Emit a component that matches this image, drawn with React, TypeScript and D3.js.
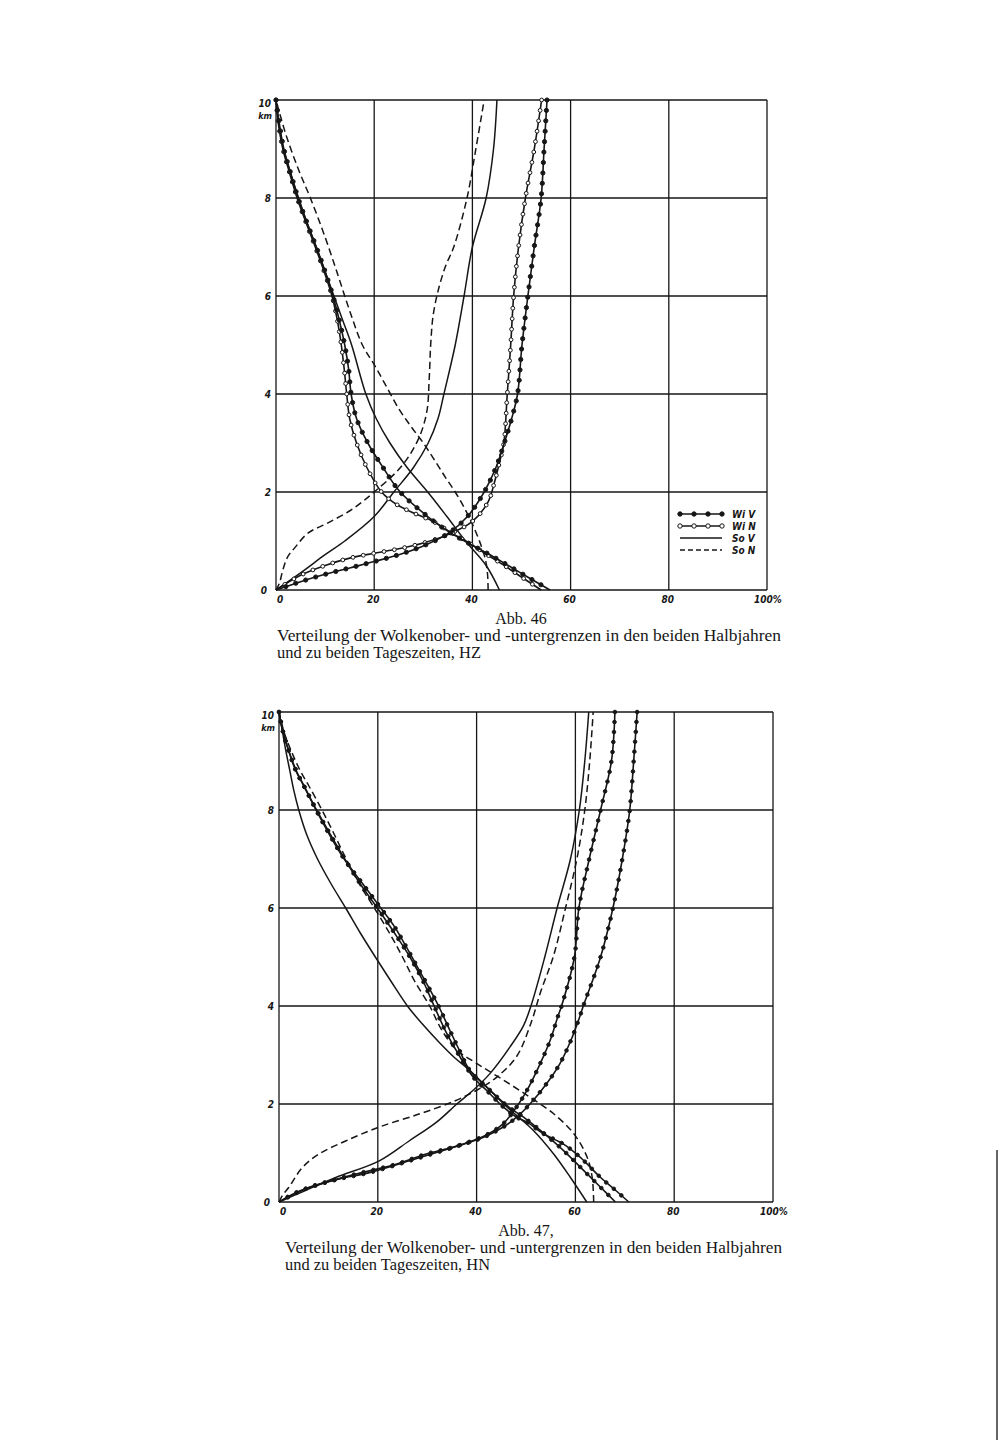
import React, { useEffect, useRef } from "react";
import * as d3 from "d3";

type Pt = [number, number]; // [percent, km]

const kmTicks = [0, 2, 4, 6, 8, 10];
const pctTicks = [0, 20, 40, 60, 80, 100];
const legendNames = ["WiV", "WiN", "SoV", "SoN"];

// Abb. 46 (HZ) - "Unter" curves rise from the origin, "Ober" curves fall from 10 km
const hzWiVUnter: Pt[] = [[0, 0], [5, 0.17], [10, 0.32], [15, 0.45], [20, 0.58], [25, 0.72], [30, 0.9], [35, 1.15], [39, 1.5], [42.4, 2.0], [44.8, 2.5], [46.5, 3.0], [48, 3.5], [49.2, 4], [50.1, 5], [51.3, 6], [52.6, 7], [54, 8], [54.6, 9], [55.2, 10]];
const hzWiNUnter: Pt[] = [[0, 0], [5, 0.3], [10, 0.5], [15, 0.65], [20, 0.75], [25, 0.84], [30, 0.96], [35, 1.13], [40, 1.4], [43.2, 1.8], [44.5, 2.2], [45.5, 2.6], [46.4, 3.0], [47.1, 4], [47.8, 5], [48.4, 6], [49.4, 7], [50.8, 8], [52.6, 9], [54.1, 10]];
const hzSoVUnter: Pt[] = [[0, 0], [5, 0.35], [10, 0.72], [14, 1.0], [20, 1.5], [24, 2.0], [28, 2.5], [31, 3.0], [33, 3.5], [34.2, 4], [36.5, 5], [38.3, 6], [40, 7], [42.8, 8], [44.3, 9], [45, 10]];
const hzSoNUnter: Pt[] = [[0, 0], [0.7, 0.14], [1.4, 0.41], [2.4, 0.68], [3.8, 0.86], [6.5, 1.16], [10.6, 1.37], [15.4, 1.64], [20, 2.0], [25.6, 2.53], [29, 3.08], [30.7, 3.63], [31.2, 4.3], [31.5, 5], [32, 5.6], [33, 6.1], [34.5, 6.6], [36.2, 7], [38.9, 8], [40.7, 9], [42.4, 10]];
const hzWiVOber: Pt[] = [[0, 10], [0.7, 9.5], [1.6, 9], [3, 8.5], [4.5, 8], [6.3, 7.5], [8.2, 7], [10, 6.5], [11.6, 6], [12.9, 5.5], [14, 5], [14.8, 4.5], [15.3, 4], [16.4, 3.5], [18.7, 3], [21.8, 2.5], [25.3, 2], [30.9, 1.5], [35, 1.2], [39.3, 0.95], [43, 0.75], [47.3, 0.5], [51.5, 0.25], [55.8, 0]];
const hzWiNOber: Pt[] = [[0, 10], [0.5, 9.5], [1.4, 9], [2.8, 8.5], [4.3, 8], [6.1, 7.5], [8, 7], [9.8, 6.5], [11.4, 6], [12.5, 5.5], [13.3, 5], [13.9, 4.5], [14.4, 4], [15, 3.5], [16.4, 3], [18.5, 2.5], [21.5, 2], [24.5, 1.75], [28.5, 1.55], [32, 1.4], [36, 1.15], [39.5, 0.95], [43, 0.72], [46.5, 0.5], [50.2, 0.25], [54, 0]];
const hzSoVOber: Pt[] = [[0, 10], [0.6, 9.5], [1.5, 9], [3, 8.5], [4.6, 8], [6.3, 7.5], [8.2, 7], [10, 6.5], [11.8, 6], [13.6, 5.5], [15.4, 5], [18.3, 4], [20.4, 3.5], [23.2, 3], [26.7, 2.5], [30.9, 2], [34.8, 1.5], [38.6, 1], [42.8, 0.5], [45.5, 0]];
const hzSoNOber: Pt[] = [[0, 10], [2, 9.3], [4.5, 8.6], [7, 8], [10, 7.2], [12.7, 6.4], [15, 5.7], [17.6, 5], [20, 4.6], [22.5, 4.15], [25, 3.7], [27.4, 3.35], [30, 3.0], [32.3, 2.65], [34.5, 2.3], [36.5, 2.0], [38.5, 1.65], [40.2, 1.3], [41.8, 0.9], [42.7, 0.6], [43.1, 0.3], [43.2, 0]];

// Abb. 47 (HN)
const hnWiVUnter: Pt[] = [[0, 0], [6.1, 0.3], [12.2, 0.47], [18.3, 0.6], [26.4, 0.84], [33.2, 1.05], [38.6, 1.22], [41.4, 1.32], [45.4, 1.53], [48.1, 1.73], [50.8, 2.0], [54.2, 2.42], [56.9, 2.83], [59.1, 3.3], [60.6, 3.7], [61.6, 4], [65.1, 5], [67.6, 6], [69.5, 7], [71, 8], [71.8, 9], [72.5, 10]];
const hnWiNUnter: Pt[] = [[0, 0], [3.4, 0.19], [9.5, 0.4], [15.6, 0.57], [23.7, 0.77], [29.8, 0.98], [35.3, 1.12], [42, 1.37], [45.4, 1.6], [48.1, 1.94], [50.2, 2.28], [52.9, 2.83], [54.9, 3.3], [56.5, 3.8], [57.2, 4], [59.8, 5], [60.7, 6], [62.8, 7], [65.1, 8], [67.3, 9], [68, 10]];
const hnSoVUnter: Pt[] = [[0, 0], [5, 0.22], [11.5, 0.5], [20.3, 0.84], [26.4, 1.25], [31.9, 1.63], [36, 2.0], [39.3, 2.28], [42.7, 2.62], [46.8, 3.17], [49.5, 3.6], [51, 4], [53.8, 5], [56.3, 6], [59, 7], [60.8, 8], [61.9, 9], [62.7, 10]];
const hnSoNUnter: Pt[] = [[0, 0], [0.8, 0.15], [2, 0.3], [4.7, 0.7], [8.1, 0.98], [13.6, 1.25], [20.3, 1.53], [28.5, 1.8], [35.3, 2.05], [40, 2.28], [44.1, 2.55], [48.1, 2.97], [51, 3.65], [53, 4.3], [55.5, 5], [58, 6], [60.3, 7], [61.9, 8], [62.9, 9], [63.6, 10]];
const hnWiVOber: Pt[] = [[0, 10], [0.8, 9.6], [2, 9.2], [3.5, 8.8], [5, 8.5], [7.5, 8], [10.2, 7.5], [13.2, 7], [16.9, 6.5], [20.6, 6], [23.5, 5.6], [25.8, 5.2], [28, 4.8], [30.2, 4.4], [32.3, 4], [34.6, 3.5], [36.5, 3.1], [38.6, 2.69], [42, 2.35], [46.1, 1.97], [49.5, 1.73], [52.9, 1.46], [57.6, 1.05], [61.7, 0.64], [65.1, 0.3], [68.1, 0]];
const hnWiNOber: Pt[] = [[0, 10], [0.8, 9.6], [2, 9.2], [3.4, 8.8], [5, 8.5], [7.6, 8], [10.4, 7.5], [13.3, 7], [16.4, 6.5], [19.9, 6], [23.3, 5.5], [26.5, 5], [29.2, 4.5], [31.4, 4], [33.9, 3.45], [36.6, 2.97], [39.3, 2.55], [42, 2.28], [45.4, 1.94], [48.1, 1.73], [50.2, 1.63], [53.6, 1.39], [57.6, 1.18], [61, 0.91], [65.1, 0.5], [68, 0.25], [70.8, 0]];
const hnSoVOber: Pt[] = [[0, 10], [0.25, 9.85], [0.7, 9.6], [1.4, 9.2], [2.2, 8.8], [3, 8.4], [4, 8], [5.6, 7.5], [7.8, 7], [10.5, 6.5], [13.5, 6], [16.4, 5.5], [19.5, 5], [22.7, 4.5], [26, 4], [29.3, 3.6], [32.5, 3.25], [35.5, 2.95], [38.6, 2.69], [42.7, 2.28], [46.8, 1.88], [51.5, 1.46], [55.6, 0.98], [59, 0.5], [62.3, 0]];
const hnSoNOber: Pt[] = [[0, 10], [1, 9.6], [2.5, 9.2], [4.3, 8.8], [6, 8.5], [8.7, 8], [11.2, 7.5], [13.6, 7], [16.2, 6.5], [19.3, 6], [22.3, 5.5], [25, 5], [27.5, 4.5], [30.5, 4], [33, 3.5], [36, 3.1], [40, 2.83], [45.4, 2.49], [50.8, 2.14], [55.6, 1.8], [59.7, 1.39], [62.4, 0.91], [63.4, 0.5], [63.7, 0]];

const captionText = "Verteilung der Wolkenober- und -untergrenzen in den beiden Halbjahren";

const ink = "#161616";
const tickFont = "'Liberation Sans Narrow', 'DejaVu Sans Condensed', 'Liberation Sans', sans-serif";
const serif = "'Liberation Serif', 'DejaVu Serif', serif";

type Curve = { kind: string; data: Pt[] };

const panels = [
  {
    left: 276, right: 767, top: 100, bottom: 590, legend: true, dotGap: 10.5, solidDots: false,
    title: "Abb. 46", titleX: 521, line1X: 277, line1Len: 504, line2Len: 204, line2: "und zu beiden Tageszeiten, HZ",
    curves: [
      { kind: "SoV", data: hzSoVUnter }, { kind: "SoV", data: hzSoVOber },
      { kind: "SoN", data: hzSoNUnter }, { kind: "SoN", data: hzSoNOber },
      { kind: "WiN", data: hzWiNUnter }, { kind: "WiN", data: hzWiNOber },
      { kind: "WiV", data: hzWiVUnter }, { kind: "WiV", data: hzWiVOber },
    ] as Curve[],
  },
  {
    left: 279, right: 773, top: 712, bottom: 1202, legend: false, dotGap: 10, solidDots: true,
    title: "Abb. 47,", titleX: 526, line1X: 285, line1Len: 497, line2Len: 205, line2: "und zu beiden Tageszeiten, HN",
    curves: [
      { kind: "SoV", data: hnSoVUnter }, { kind: "SoV", data: hnSoVOber },
      { kind: "SoN", data: hnSoNUnter }, { kind: "SoN", data: hnSoNOber },
      { kind: "WiN", data: hnWiNUnter }, { kind: "WiN", data: hnWiNOber },
      { kind: "WiV", data: hnWiVUnter }, { kind: "WiV", data: hnWiVOber },
    ] as Curve[],
  },
];

function drawDot(g: any, px: number, py: number, filled: boolean, r: number) {
  g.append("circle")
    .attr("cx", px)
    .attr("cy", py)
    .attr("r", r)
    .attr("fill", filled ? ink : "#fff")
    .attr("stroke", ink)
    .attr("stroke-width", 1);
}

function App() {
  const svgRef = useRef<SVGSVGElement>(null);

  useEffect(() => {
    if (!svgRef.current) return;
    const svg = d3.select(svgRef.current);
    svg.selectAll("*").remove();

    panels.forEach((p) => {
      const g = svg.append("g");
      const x = d3.scaleLinear().domain([0, 100]).range([p.left, p.right]);
      const y = d3.scaleLinear().domain([0, 10]).range([p.bottom, p.top]);

      // grid
      g.selectAll(".vg").data(pctTicks).join("line")
        .attr("x1", (d) => x(d)).attr("x2", (d) => x(d))
        .attr("y1", p.top).attr("y2", p.bottom)
        .attr("stroke", ink).attr("stroke-width", 1.3);
      g.selectAll(".hg").data(kmTicks).join("line")
        .attr("class", "hg")
        .attr("x1", p.left).attr("x2", p.right)
        .attr("y1", (d) => y(d)).attr("y2", (d) => y(d))
        .attr("stroke", ink).attr("stroke-width", 1.3);

      // tick labels
      const tick = (s: any) =>
        s.attr("font-family", tickFont).attr("font-style", "italic")
          .attr("font-weight", "bold").attr("font-size", 10).attr("fill", ink);
      kmTicks.forEach((k) => {
        tick(g.append("text"))
          .attr("x", k === 0 ? p.left - 9 : p.left - 5)
          .attr("y", k === 10 ? y(k) + 7 : y(k) + 4)
          .attr("text-anchor", "end")
          .text(String(k));
      });
      tick(g.append("text")).attr("x", p.left - 4).attr("y", y(10) + 19)
        .attr("text-anchor", "end").attr("font-size", 9).text("km");
      pctTicks.forEach((v) => {
        const t = tick(g.append("text")).attr("y", p.bottom + 13);
        if (v === 0) t.attr("x", x(v) + 1).attr("text-anchor", "start").text("0");
        else if (v === 100) t.attr("x", x(v) - 13).attr("text-anchor", "start").text("100%");
        else t.attr("x", x(v) - 1).attr("text-anchor", "middle").text(String(v));
      });

      // curves
      const line = d3.line<Pt>()
        .x((d) => x(d[0]))
        .y((d) => y(d[1]))
        .curve(d3.curveCatmullRom.alpha(0.5));

      p.curves.forEach((c) => {
        const pts = [...c.data].sort((a, b) => a[1] - b[1]);
        const path = g.append("path")
          .attr("d", line(pts) as string)
          .attr("fill", "none")
          .attr("stroke", ink)
          .attr("stroke-width", c.kind === "SoV" || c.kind === "SoN" ? 1.5 : 1.6)
          .attr("stroke-dasharray", c.kind === "SoN" ? "7 4" : null);
        if (c.kind === "WiV" || c.kind === "WiN") {
          const node = path.node() as SVGPathElement;
          const len = node.getTotalLength();
          const n = Math.round(len / p.dotGap);
          const filled = c.kind === "WiV" || p.solidDots;
          for (let i = 1; i <= n; i++) {
            const q = node.getPointAtLength((i * len) / n);
            drawDot(g, q.x, q.y, filled, p.solidDots ? 1.8 : c.kind === "WiV" ? 2.1 : 1.9);
          }
        }
      });

      // legend
      if (p.legend) {
        legendNames.forEach((name, i) => {
          const ly = 514 + i * 12;
          const lx0 = 680;
          const lx1 = 722;
          g.append("line")
            .attr("x1", lx0).attr("x2", lx1).attr("y1", ly).attr("y2", ly)
            .attr("stroke", ink).attr("stroke-width", 1.5)
            .attr("stroke-dasharray", name === "SoN" ? "5 3" : null);
          if (name === "WiV" || name === "WiN") {
            d3.range(4).forEach((j) => drawDot(g, lx0 + (j * (lx1 - lx0)) / 3, ly, name === "WiV", 2.2));
          }
          tick(g.append("text")).attr("x", 732).attr("y", ly + 3.5).text(name.slice(0, 2) + " " + name.slice(2));
        });
      }

      // caption
      const cap = (s: any) =>
        s.attr("font-family", serif).attr("font-size", 16).attr("fill", ink);
      cap(g.append("text")).attr("x", p.titleX).attr("y", p.bottom + 34)
        .attr("text-anchor", "middle").text(p.title);
      cap(g.append("text")).attr("x", p.line1X).attr("y", p.bottom + 51)
        .attr("textLength", p.line1Len).attr("lengthAdjust", "spacingAndGlyphs")
        .text(captionText);
      cap(g.append("text")).attr("x", p.line1X).attr("y", p.bottom + 68)
        .attr("textLength", p.line2Len).attr("lengthAdjust", "spacingAndGlyphs")
        .text(p.line2);
    });

    // scan edge at the lower right
    svg.append("line").attr("x1", 997).attr("x2", 997).attr("y1", 1150).attr("y2", 1440)
      .attr("stroke", "#333").attr("stroke-width", 1.5);
  }, []);

  return (
    <div style={{ position: "absolute", left: 0, top: 0, width: 1000, height: 1440, background: "#fff" }}>
      <svg ref={svgRef} width={1000} height={1440} viewBox="0 0 1000 1440" />
    </div>
  );
}

export default App;
